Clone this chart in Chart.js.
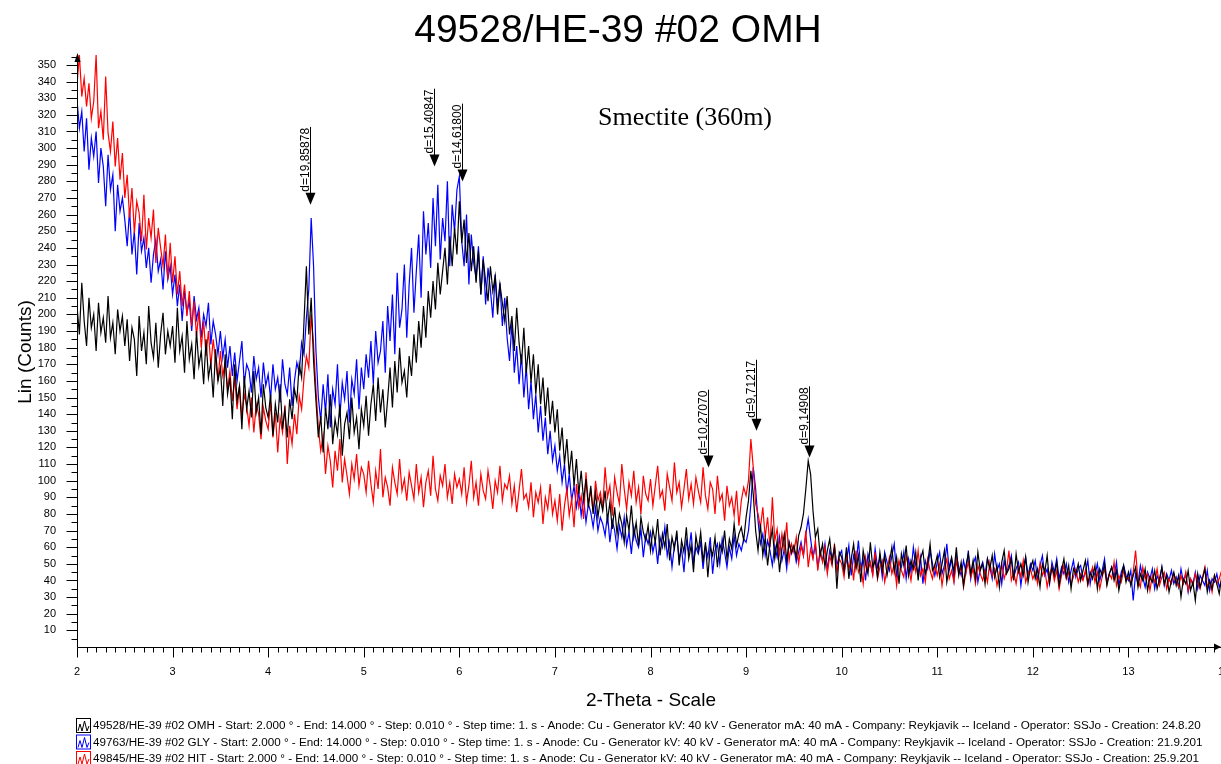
<!DOCTYPE html>
<html>
<head>
<meta charset="utf-8">
<script src="https://cdn.jsdelivr.net/npm/chart.js@4.4.1/dist/chart.umd.min.js"></script>
<style>
  html, body { margin: 0; padding: 0; background: #fff; overflow: hidden; }
  #wrap { position: absolute; left: 0; top: 0; width: 1228px; height: 764px; }
</style>
</head>
<body>
<div id="wrap"><canvas id="xrd" width="1228" height="764"></canvas></div>
<script>
// 2-theta grid: start and step of the sampled points
const thetaStart = 2;
const thetaStep = 0.025;

// Lin (Counts), one value per 0.025 deg (rows of 0.5 deg)
const omhCounts = [
  205, 188, 219, 196, 181, 210, 192, 200, 178, 207, 189, 198, 183, 211, 186, 195, 176, 203, 190, 199,
  181, 197, 172, 192, 185, 163, 199, 178, 189, 170, 205, 183, 174, 195, 168, 188, 201, 176, 190, 181,
  193, 171, 204, 178, 187, 165, 196, 173, 182, 161, 190, 169, 178, 158, 185, 162, 171, 150, 179, 160,
  168, 145, 176, 152, 162, 137, 170, 148, 157, 131, 163, 143, 154, 138, 166, 141, 150, 128, 158, 144,
  138, 152, 127, 146, 135, 158, 131, 143, 126, 149, 137, 155, 148, 170, 162, 196, 229, 188, 210, 172,
  148, 126, 139, 117, 144, 131, 152, 122, 137, 128, 146, 115, 134, 141, 125, 150, 129, 138, 119, 143,
  133, 151, 127, 146, 158, 136, 162, 141, 155, 132, 149, 168, 144, 172, 153, 180, 159, 166, 150, 175,
  163, 188, 171, 196, 180, 205, 186, 214, 198, 220, 203, 231, 212, 226, 240, 218, 247, 229, 252, 236,
  268, 243, 257, 231, 249, 226, 241, 219, 238, 212, 233, 220, 208, 229, 214, 223, 200, 218, 207, 196,
  211, 188, 199, 178, 204, 183, 170, 192, 165, 181, 159, 176, 152, 170, 146, 162, 139, 156, 134, 148,
  129, 143, 118, 132, 110, 125, 104, 118, 97, 113, 92, 106, 88, 101, 84, 97, 80, 93, 78, 89,
  82, 94, 76, 87, 71, 84, 68, 80, 74, 63, 79, 70, 85, 66, 75, 61, 78, 69, 64, 73,
  58, 71, 63, 77, 55, 68, 60, 74, 52, 66, 59, 70, 49, 64, 57, 72, 53, 61, 45, 67,
  58, 69, 51, 63, 42, 60, 55, 66, 48, 62, 57, 70, 53, 65, 59, 74, 61, 68, 72, 64,
  78, 88, 106, 92, 70, 58, 74, 55, 66, 49, 62, 71, 53, 64, 45, 59, 68, 52, 63, 57,
  61, 54, 67, 72, 80, 95, 112, 104, 82, 66, 71, 55, 62, 48, 58, 65, 51, 60, 35, 57,
  54, 46, 60, 41, 53, 62, 47, 55, 39, 58, 50, 44, 63, 48, 52, 42, 57, 46, 55, 43,
  51, 60, 45, 54, 38, 56, 49, 61, 43, 52, 47, 57, 40, 53, 58, 44, 50, 62, 46, 49,
  55, 42, 50, 58, 39, 48, 54, 45, 60, 43, 51, 37, 49, 56, 44, 52, 41, 57, 46, 50,
  38, 53, 47, 55, 42, 49, 36, 51, 58, 44, 47, 53, 40, 56, 45, 50, 43, 54, 39, 48,
  52, 41, 47, 36, 50, 45, 55, 39, 48, 43, 51, 37, 46, 53, 42, 49, 35, 47, 44, 50,
  40, 46, 52, 38, 45, 41, 49, 35, 47, 43, 50, 37, 44, 48, 40, 46, 34, 42, 49, 39,
  45, 37, 43, 48, 36, 44, 40, 47, 34, 42, 39, 46, 35, 41, 48, 38, 43, 33, 40, 45,
  37, 43, 30, 41, 38, 46, 34, 39, 28, 44, 36, 41, 47, 33, 40, 35, 43, 38, 32, 42,
  39
];

const glyCounts = [
  329, 312, 322, 298, 318, 287, 306, 295, 310, 279, 300, 289, 265, 296, 275, 284, 250, 278, 262, 270,
  257, 241, 263, 236, 250, 224, 255, 238, 246, 228, 240, 219, 236, 245, 226, 233, 215, 238, 221, 229,
  212, 224, 205, 218, 196, 214, 201, 208, 190, 211, 197, 204, 186, 200, 193, 207, 182, 196, 188, 176,
  190, 174, 185, 168, 181, 163, 177, 160, 172, 184, 158, 170, 166, 153, 175, 161, 168, 150, 171, 157,
  164, 149, 170, 155, 162, 147, 173, 158, 152, 168, 145, 160, 171, 165, 183, 176, 198, 215, 258, 229,
  178, 150, 136, 158, 141, 164, 132, 155, 146, 170, 138, 159, 149, 166, 135, 161, 152, 173, 143, 168,
  155, 176, 162, 184, 158, 190, 171, 178, 196, 165, 205, 184, 212, 176, 225, 192, 203, 230, 186, 218,
  240, 201, 226, 248, 210, 262, 236, 255, 228, 270, 241, 278, 233, 258, 244, 280, 229, 266, 250, 275,
  283, 244, 229, 260, 218, 248, 231, 222, 241, 212, 235, 206, 228, 215, 198, 224, 205, 219, 193, 210,
  186, 172, 195, 165, 181, 158, 176, 150, 169, 143, 160, 137, 152, 129, 145, 124, 138, 116, 130, 112,
  121, 106, 115, 99, 110, 92, 104, 88, 97, 84, 93, 79, 90, 75, 86, 81, 72, 84, 70, 78,
  74, 67, 80, 63, 76, 70, 59, 73, 66, 78, 61, 69, 56, 72, 64, 60, 71, 54, 67, 62,
  69, 57, 64, 50, 66, 60, 72, 55, 63, 48, 61, 67, 53, 59, 45, 64, 57, 69, 51, 60,
  56, 63, 47, 61, 54, 66, 44, 58, 62, 50, 65, 57, 48, 60, 53, 67, 55, 62, 58, 65,
  63, 70, 86, 108, 95, 76, 62, 68, 55, 64, 58, 49, 61, 54, 66, 52, 59, 47, 63, 56,
  60, 51, 57, 63, 55, 68, 77, 65, 54, 61, 48, 57, 52, 62, 46, 58, 53, 60, 49, 55,
  58, 45, 52, 61, 43, 55, 49, 64, 47, 53, 40, 56, 50, 44, 59, 48, 54, 42, 57, 51,
  46, 55, 62, 43, 51, 48, 57, 41, 53, 45, 60, 49, 44, 54, 38, 52, 47, 58, 50, 43,
  51, 57, 44, 49, 62, 46, 53, 40, 55, 48, 43, 52, 45, 58, 41, 50, 54, 39, 47, 51,
  44, 53, 48, 41, 56, 46, 50, 38, 52, 45, 49, 55, 42, 47, 51, 37, 48, 54, 43, 50,
  46, 52, 40, 49, 55, 43, 47, 38, 51, 45, 53, 41, 48, 44, 50, 39, 46, 52, 42, 47,
  49, 41, 45, 52, 38, 47, 43, 50, 40, 46, 53, 39, 44, 48, 42, 51, 37, 45, 49, 43,
  40, 46, 28, 44, 38, 49, 42, 36, 45, 41, 47, 35, 43, 39, 48, 37, 44, 40, 46, 38,
  42, 36, 47, 39, 44, 33, 41, 38, 45, 35, 43, 40, 37, 46, 34, 41, 39, 44, 36, 40,
  38
];

const hitCounts = [
  338, 356, 331, 342, 325, 339, 318, 328, 356, 312, 322, 305, 343, 309, 298, 316, 289, 306, 281, 297,
  270, 284, 258, 276, 249, 268, 261, 244, 272, 239, 258, 246, 263, 231, 252, 240, 229, 248, 221, 243,
  219, 235, 212, 226, 205, 218, 199, 214, 193, 208, 187, 202, 180, 196, 175, 190, 169, 185, 172, 160,
  178, 163, 171, 155, 166, 148, 162, 143, 157, 138, 152, 145, 133, 150, 129, 146, 140, 125, 144, 136,
  131, 147, 126, 141, 117, 138, 129, 145, 110, 133, 122, 140, 128, 151, 143, 162, 175, 168, 200, 182,
  155, 132, 118, 127, 104, 121, 112, 96, 118, 106, 125, 99, 113, 103, 92, 110, 101, 116, 97, 108,
  104, 93, 112, 98, 87, 106, 95, 119, 90, 102, 96, 85, 108, 99, 92, 113, 94, 101, 88, 105,
  97, 89, 110, 93, 102, 84, 99, 106, 91, 115, 95, 88, 103, 97, 110, 90, 99, 86, 104, 96,
  101, 92, 108, 87, 97, 112, 90, 99, 85, 104, 94, 89, 106, 96, 83, 100, 93, 109, 88, 98,
  95, 103, 86, 97, 81, 94, 107, 89, 92, 84, 99, 78, 93, 87, 96, 74, 90, 83, 98, 80,
  88, 76, 92, 70, 85, 95, 79, 89, 72, 98, 84, 91, 77, 105, 86, 94, 81, 100, 88, 93,
  84, 108, 90, 97, 79, 102, 93, 86, 110, 95, 83, 99, 91, 106, 87, 96, 80, 103, 92, 88,
  101, 85, 97, 109, 90, 94, 82, 104, 96, 88, 111, 93, 99, 84, 95, 107, 89, 98, 86, 102,
  94, 87, 108, 91, 83, 99, 95, 80, 103, 88, 92, 76, 97, 85, 90, 79, 94, 73, 88, 96,
  91, 100, 125, 108, 86, 80, 72, 84, 66, 78, 60, 90, 64, 71, 56, 68, 58, 75, 52, 62,
  57, 66, 50, 61, 55, 70, 48, 59, 53, 64, 46, 58, 51, 60, 44, 55, 49, 62, 45, 53,
  50, 42, 56, 47, 53, 40, 58, 45, 49, 38, 54, 46, 51, 43, 57, 41, 48, 52, 39, 47,
  54, 44, 50, 37, 52, 46, 42, 55, 48, 40, 51, 45, 58, 43, 47, 39, 53, 46, 41, 49,
  43, 50, 37, 47, 53, 41, 46, 39, 52, 44, 48, 36, 45, 51, 42, 47, 38, 49, 44, 40,
  46, 39, 51, 43, 47, 37, 44, 50, 41, 46, 58, 40, 45, 38, 48, 42, 52, 39, 44, 47,
  41, 45, 38, 50, 43, 47, 36, 44, 48, 40, 46, 35, 43, 49, 41, 45, 38, 42, 47, 39,
  44, 40, 46, 37, 43, 48, 39, 45, 35, 42, 47, 38, 44, 41, 51, 37, 43, 39, 46, 40,
  42, 38, 45, 58, 40, 36, 48, 41, 44, 34, 43, 39, 47, 37, 42, 45, 35, 41, 38, 44,
  40, 36, 43, 38, 45, 34, 41, 37, 44, 39, 35, 42, 48, 36, 40, 33, 43, 38, 41, 46,
  40
];

// peak markers: 2-theta position, count at arrow tip, label
const peakTheta = [4.44, 5.73, 6.03, 8.60, 9.10, 9.655];
const peakTip = [266, 289, 280, 108, 130, 114];
const peakLabels = ['d=19,85878', 'd=15,40847', 'd=14,61800', 'd=10,27070', 'd=9,71217', 'd=9,14908'];

const xTickLabels = ['2', '3', '4', '5', '6', '7', '8', '9', '10', '11', '12', '13', '14'];

const seriesColors = ['#000000', '#0000ff', '#ff0000'];
const legendRows = [
  '49528/HE-39 #02 OMH - Start: 2.000 ° - End: 14.000 ° - Step: 0.010 ° - Step time: 1. s - Anode: Cu - Generator kV: 40 kV - Generator mA: 40 mA - Company: Reykjavik -- Iceland - Operator: SSJo - Creation: 24.8.20',
  '49763/HE-39 #02 GLY - Start: 2.000 ° - End: 14.000 ° - Step: 0.010 ° - Step time: 1. s - Anode: Cu - Generator kV: 40 kV - Generator mA: 40 mA - Company: Reykjavik -- Iceland - Operator: SSJo - Creation: 21.9.201',
  '49845/HE-39 #02 HIT - Start: 2.000 ° - End: 14.000 ° - Step: 0.010 ° - Step time: 1. s - Anode: Cu - Generator kV: 40 kV - Generator mA: 40 mA - Company: Reykjavik -- Iceland - Operator: SSJo - Creation: 25.9.201'
];

const SANS = '"Liberation Sans", Arial, sans-serif';
const SERIF = '"Liberation Serif", "Times New Roman", serif';

function toPoints(counts) {
  return counts.map((v, i) => ({ x: thetaStart + i * thetaStep, y: v }));
}

const xrdDecor = {
  id: 'xrdDecor',
  afterDraw(chart) {
    const { ctx, chartArea: a } = chart;
    const xs = chart.scales.x;
    const ys = chart.scales.y;
    ctx.save();
    ctx.strokeStyle = '#000';
    ctx.fillStyle = '#000';
    ctx.lineWidth = 1;

    const ax = Math.round(a.left) + 0.5;
    const ay = Math.round(a.bottom) + 0.5;

    // y axis + ticks
    ctx.beginPath();
    ctx.moveTo(ax, a.top + 2);
    ctx.lineTo(ax, ay);
    for (let v = 5; v <= 355; v += 5) {
      const py = Math.round(ys.getPixelForValue(v)) + 0.5;
      const len = v % 10 === 0 ? 11 : 6;
      ctx.moveTo(ax - len, py);
      ctx.lineTo(ax, py);
    }
    // x axis + ticks
    ctx.moveTo(ax, ay);
    ctx.lineTo(1221, ay);
    for (let k = 0; k <= 120; k++) {
      const px = Math.round(xs.getPixelForValue(thetaStart + k * 0.1)) + 0.5;
      const len = k % 10 === 0 ? 10 : 5;
      ctx.moveTo(px, ay);
      ctx.lineTo(px, ay + len);
    }
    ctx.stroke();

    // axis arrow heads
    ctx.beginPath();
    ctx.moveTo(ax, a.top - 2);
    ctx.lineTo(ax - 3, a.top + 7);
    ctx.lineTo(ax + 3, a.top + 7);
    ctx.closePath();
    ctx.fill();
    ctx.beginPath();
    ctx.moveTo(1221, ay - 0.5);
    ctx.lineTo(1214, ay - 4);
    ctx.lineTo(1214, ay + 3);
    ctx.closePath();
    ctx.fill();

    // tick labels
    ctx.font = '11px ' + SANS;
    ctx.textAlign = 'right';
    ctx.textBaseline = 'middle';
    for (let v = 10; v <= 350; v += 10) {
      ctx.fillText(String(v), 56, ys.getPixelForValue(v));
    }
    ctx.textAlign = 'center';
    xTickLabels.forEach(t => {
      ctx.fillText(t, xs.getPixelForValue(Number(t)), 672);
    });

    // axis titles
    ctx.font = '19px ' + SANS;
    ctx.fillText('2-Theta - Scale', 651, 701);
    ctx.save();
    ctx.translate(26, 352);
    ctx.rotate(-Math.PI / 2);
    ctx.fillText('Lin (Counts)', 0, 0);
    ctx.restore();

    // main title and note
    ctx.font = '39px ' + SANS;
    ctx.fillText('49528/HE-39 #02 OMH', 618, 31);
    ctx.font = '26px ' + SERIF;
    ctx.fillText('Smectite (360m)', 685, 118);

    // peak arrows
    ctx.font = '12px ' + SANS;
    ctx.textAlign = 'left';
    ctx.textBaseline = 'alphabetic';
    peakTheta.forEach((t, i) => {
      const px = Math.round(xs.getPixelForValue(t)) + 0.5;
      const tip = ys.getPixelForValue(peakTip[i]);
      const w = ctx.measureText(peakLabels[i]).width;
      const textBottom = tip - 13;
      ctx.beginPath();
      ctx.moveTo(px, tip - 10);
      ctx.lineTo(px, textBottom - w - 1);
      ctx.stroke();
      ctx.beginPath();
      ctx.moveTo(px, tip);
      ctx.lineTo(px - 5, tip - 12);
      ctx.lineTo(px + 5, tip - 12);
      ctx.closePath();
      ctx.fill();
      ctx.save();
      ctx.translate(px - 1.5, textBottom);
      ctx.rotate(-Math.PI / 2);
      ctx.fillText(peakLabels[i], 0, 0);
      ctx.restore();
    });

    // legend rows
    ctx.font = '12px ' + SANS;
    const fit = 1109 / ctx.measureText(legendRows[0]).width;
    ctx.font = (12 * fit).toFixed(2) + 'px ' + SANS;
    ctx.textBaseline = 'middle';
    const rowY = [726, 742.5, 759];
    legendRows.forEach((txt, i) => {
      const cy = rowY[i];
      ctx.strokeStyle = seriesColors[i];
      ctx.lineWidth = 1;
      ctx.strokeRect(76.5, cy - 7.5, 14, 14);
      ctx.beginPath();
      ctx.moveTo(78, cy + 5);
      ctx.lineTo(80, cy - 2);
      ctx.lineTo(82, cy + 5);
      ctx.lineTo(84.5, cy - 5);
      ctx.lineTo(87, cy + 5);
      ctx.lineTo(89, cy);
      ctx.stroke();
      ctx.fillStyle = '#000';
      ctx.fillText(txt, 93, cy);
    });
    ctx.restore();
  }
};

new Chart(document.getElementById('xrd'), {
  type: 'line',
  data: {
    datasets: [
      { label: 'OMH', data: toPoints(omhCounts), borderColor: seriesColors[0] },
      { label: 'HIT', data: toPoints(hitCounts), borderColor: seriesColors[2] },
      { label: 'GLY', data: toPoints(glyCounts), borderColor: seriesColors[1] }
    ]
  },
  options: {
    responsive: false,
    animation: false,
    devicePixelRatio: 1,
    layout: { padding: { left: 77, right: 4, top: 55, bottom: 117 } },
    elements: {
      point: { radius: 0 },
      line: { borderWidth: 1.2, tension: 0 }
    },
    plugins: { legend: { display: false }, tooltip: { enabled: false } },
    scales: {
      x: { type: 'linear', min: 2, max: 14, display: false },
      y: { min: 0, max: 356, display: false }
    }
  },
  plugins: [xrdDecor]
});
</script>
</body>
</html>
